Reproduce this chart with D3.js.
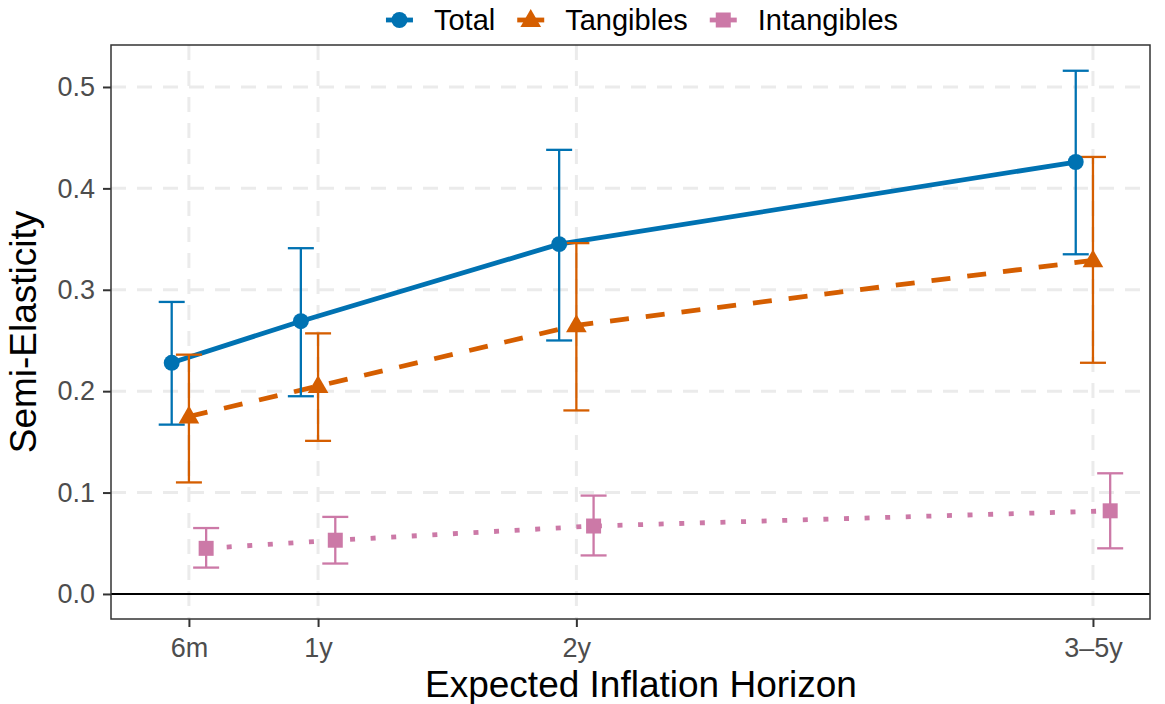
<!DOCTYPE html>
<html>
<head>
<meta charset="utf-8">
<script src="https://cdn.jsdelivr.net/npm/d3@7"></script>
<style>
  body { margin: 0; background: #fff; }
  svg { display: block; font-family: "Liberation Sans", Arial, Helvetica, sans-serif; }
</style>
</head>
<body>
<div id="chart"></div>
<script>
// horizons on the x axis (months used for spacing)
const horizons = ["6m", "1y", "2y", "3\u20135y"];
const horizonMonths = [6, 12, 24, 48];

const seriesNames = ["Total", "Tangibles", "Intangibles"];

const totalEst = [0.228, 0.269, 0.345, 0.426];
const totalLo  = [0.167, 0.195, 0.250, 0.335];
const totalHi  = [0.288, 0.341, 0.438, 0.516];

const tangEst = [0.175, 0.205, 0.265, 0.329];
const tangLo  = [0.110, 0.151, 0.181, 0.228];
const tangHi  = [0.236, 0.257, 0.346, 0.431];

const intEst = [0.045, 0.053, 0.067, 0.082];
const intLo  = [0.026, 0.030, 0.038, 0.045];
const intHi  = [0.065, 0.076, 0.097, 0.119];

const yTicks = [0.0, 0.1, 0.2, 0.3, 0.4, 0.5];

const width = 1165, height = 704;
const margin = { top: 45, right: 15, bottom: 85, left: 111 };

const colors = { Total: "#0072B2", Tangibles: "#D55E00", Intangibles: "#CC79A7" };
const dashes = { Total: null, Tangibles: "19,17", Intangibles: "5,15.6" };
const dodge = { Total: -0.8, Tangibles: 0, Intangibles: 0.8 };

const series = [
  { name: "Total", est: totalEst, lo: totalLo, hi: totalHi },
  { name: "Tangibles", est: tangEst, lo: tangLo, hi: tangHi },
  { name: "Intangibles", est: intEst, lo: intLo, hi: intHi }
].map(s => ({
  name: s.name,
  values: horizonMonths.map((m, i) => ({ m: m + dodge[s.name], est: s.est[i], lo: s.lo[i], hi: s.hi[i] }))
}));

const svg = d3.select("#chart").append("svg").attr("width", width).attr("height", height);
svg.append("rect").attr("width", width).attr("height", height).attr("fill", "#fff");

const x = d3.scaleLinear().domain([2.38, 50.65]).range([margin.left, width - margin.right]);
const y = d3.scaleLinear().domain([-0.0247, 0.5414]).range([height - margin.bottom, margin.top]);

// grid
const grid = svg.append("g");
grid.selectAll(".gy").data(yTicks.filter(v => v > 0)).enter().append("line")
  .attr("x1", margin.left).attr("x2", width - margin.right)
  .attr("y1", d => y(d)).attr("y2", d => y(d))
  .attr("stroke", "#ebebeb").attr("stroke-width", 3).attr("stroke-dasharray", "15,11");
grid.selectAll(".gx").data(horizonMonths).enter().append("line")
  .attr("x1", d => x(d)).attr("x2", d => x(d))
  .attr("y1", margin.top).attr("y2", height - margin.bottom)
  .attr("stroke", "#ebebeb").attr("stroke-width", 3).attr("stroke-dasharray", "15,11");

// zero line
svg.append("line")
  .attr("x1", margin.left).attr("x2", width - margin.right)
  .attr("y1", y(0)).attr("y2", y(0))
  .attr("stroke", "#000").attr("stroke-width", 2);

// lines
const line = d3.line().x(d => x(d.m)).y(d => y(d.est));
series.forEach(s => {
  svg.append("path").datum(s.values)
    .attr("d", line).attr("fill", "none")
    .attr("stroke", colors[s.name]).attr("stroke-width", 4.8)
    .attr("stroke-dasharray", dashes[s.name]);
});

// error bars
const capHalf = 13;
series.forEach(s => {
  const g = svg.append("g").attr("stroke", colors[s.name]).attr("stroke-width", 2.3);
  g.selectAll(".v").data(s.values).enter().append("line")
    .attr("x1", d => x(d.m)).attr("x2", d => x(d.m))
    .attr("y1", d => y(d.lo)).attr("y2", d => y(d.hi));
  g.selectAll(".t").data(s.values).enter().append("line")
    .attr("x1", d => x(d.m) - capHalf).attr("x2", d => x(d.m) + capHalf)
    .attr("y1", d => y(d.hi)).attr("y2", d => y(d.hi));
  g.selectAll(".b").data(s.values).enter().append("line")
    .attr("x1", d => x(d.m) - capHalf).attr("x2", d => x(d.m) + capHalf)
    .attr("y1", d => y(d.lo)).attr("y2", d => y(d.lo));
});

// point markers
const symbols = { Total: d3.symbolCircle, Tangibles: d3.symbolTriangle, Intangibles: d3.symbolSquare };
const symSize = { Total: 200, Tangibles: 185, Intangibles: 225 };
function marker(name) { return d3.symbol().type(symbols[name]).size(symSize[name])(); }
series.forEach(s => {
  svg.selectAll(null).data(s.values).enter().append("path")
    .attr("d", marker(s.name))
    .attr("transform", d => `translate(${x(d.m)},${y(d.est) + (s.name === "Tangibles" ? 1 : 0)})`)
    .attr("fill", colors[s.name]);
});

// panel border
svg.append("rect")
  .attr("x", margin.left).attr("y", margin.top)
  .attr("width", width - margin.left - margin.right)
  .attr("height", height - margin.top - margin.bottom)
  .attr("fill", "none").attr("stroke", "#333").attr("stroke-width", 1.5);

// axes
const xAxis = d3.axisBottom(x).tickValues(horizonMonths).tickFormat((d, i) => horizons[i]).tickSize(8).tickPadding(11);
const yAxis = d3.axisLeft(y).tickValues(yTicks).tickFormat(d3.format(".1f")).tickSize(8).tickPadding(8);

const gx = svg.append("g").attr("transform", `translate(0,${height - margin.bottom})`).call(xAxis);
const gy = svg.append("g").attr("transform", `translate(${margin.left},0)`).call(yAxis);
[gx, gy].forEach(g => {
  g.select(".domain").remove();
  g.selectAll(".tick line").attr("stroke", "#333").attr("stroke-width", 2);
  g.selectAll(".tick text").attr("fill", "#4d4d4d").style("font-size", "27px")
    .style("font-family", "'Liberation Sans', Arial, sans-serif");
});

// axis titles
svg.append("text")
  .attr("x", 641).attr("y", 697).attr("text-anchor", "middle")
  .style("font-size", "37px").attr("fill", "#000")
  .text("Expected Inflation Horizon");
svg.append("text")
  .attr("transform", `translate(36,${(margin.top + height - margin.bottom) / 2}) rotate(-90)`)
  .attr("text-anchor", "middle")
  .style("font-size", "37px").attr("fill", "#000")
  .text("Semi-Elasticity");

// legend
const legend = svg.append("g");
let lx = 0;
const keyW = 27;
seriesNames.forEach((name, i) => {
  const item = legend.append("g").attr("transform", `translate(${lx},0)`);
  item.append("line").attr("x1", 0).attr("x2", keyW).attr("y1", 0).attr("y2", 0)
    .attr("stroke", colors[name]).attr("stroke-width", 4.8);
  item.append("path").attr("d", marker(name))
    .attr("transform", `translate(${keyW / 2},${name === "Tangibles" ? 1 : 0})`)
    .attr("fill", colors[name]);
  const t = item.append("text").attr("x", keyW + 21).attr("y", 10)
    .style("font-size", "29px").attr("fill", "#000").text(name);
  lx += keyW + 21 + t.node().getComputedTextLength() + 22;
});
const legendW = lx - 22;
legend.attr("transform", `translate(${642 - legendW / 2},20)`);
</script>
</body>
</html>
